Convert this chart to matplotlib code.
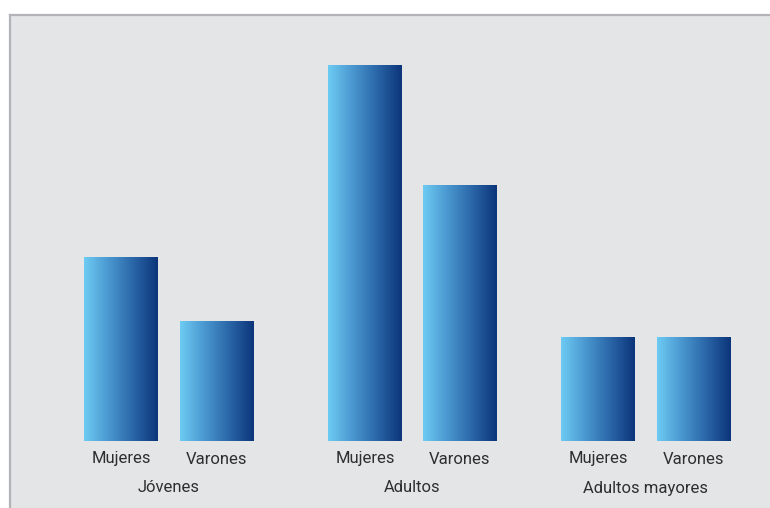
import numpy as np
import matplotlib
matplotlib.use("Agg")
import matplotlib.pyplot as plt
from matplotlib.colors import LinearSegmentedColormap

plt.rcParams['font.family'] = ['Roboto', 'DejaVu Sans']

# Data
groups = ["Jóvenes", "Adultos", "Adultos mayores"]
sexes = ["Mujeres", "Varones"]
values = {
    "Jóvenes": [184, 119],
    "Adultos": [376, 256],
    "Adultos mayores": [103, 103],
}

# Layout (x positions of bar centres, in axis units)
bar_centres = [[121, 216.5], [365, 460], [598, 693.5]]
bar_width = 74

cmap = LinearSegmentedColormap.from_list(
    "bar_grad", ["#6dcbf3", "#4a97cf", "#2a66a8", "#0c357a"])
gradient = np.linspace(0, 1, 256).reshape(1, -1)

fig = plt.figure(figsize=(7.7, 5.08), dpi=100, facecolor="white")
ax = fig.add_axes([10 / 770, 0, 760 / 770, 493 / 508])
ax.set_facecolor("#e4e5e7")
ax.set_xlim(10, 770)
ax.set_ylim(-67, 426)
for side in ("right", "bottom"):
    ax.spines[side].set_visible(False)
for side in ("top", "left"):
    ax.spines[side].set_color("#b4b4b8")
    ax.spines[side].set_linewidth(1.6)
ax.set_xticks([])
ax.set_yticks([])

text_color = "#2e2e2e"
for gi, g in enumerate(groups):
    for si, s in enumerate(sexes):
        xc = bar_centres[gi][si]
        h = values[g][si]
        x0, x1 = xc - bar_width / 2, xc + bar_width / 2
        ax.imshow(gradient, extent=[x0, x1, 0, h], aspect="auto",
                  cmap=cmap, interpolation="bicubic", zorder=2)
        ax.text(xc, -18, s, ha="center", va="center", fontsize=12,
                color=text_color)
    gc = sum(bar_centres[gi]) / 2
    ax.text(gc, -47, g, ha="center", va="center", fontsize=12,
            color=text_color)

fig.savefig("out.png", dpi=100, facecolor="white")
